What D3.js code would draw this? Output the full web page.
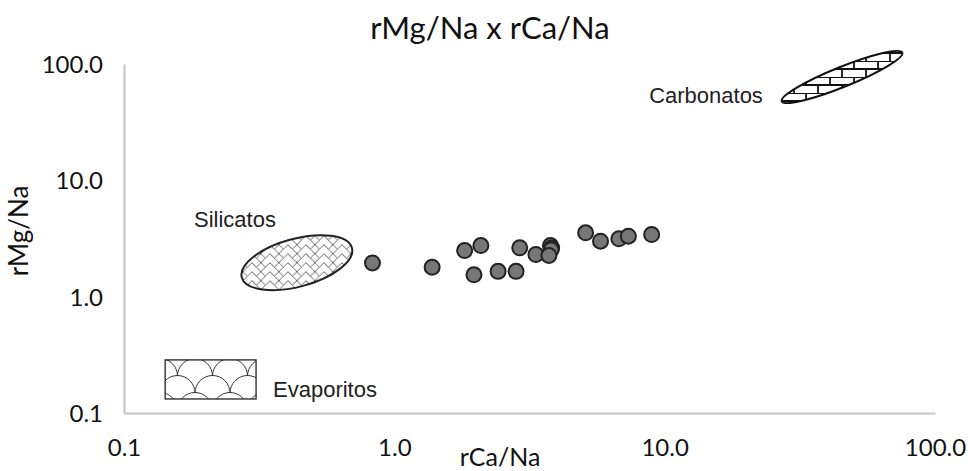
<!DOCTYPE html>
<html>
<head>
<meta charset="utf-8">
<script src="https://cdn.jsdelivr.net/npm/d3@7"></script>
<style>
  body { margin: 0; background: #fff; }
  .axis text { font-family: Lato, sans-serif; font-size: 24px; fill: #111; }
  .axis path { stroke: #c4c4c4; stroke-width: 2; }
  .region-label { font-family: "Liberation Sans", Arial, sans-serif; font-size: 22px; fill: #222; }
</style>
</head>
<body>
<div id="chart"></div>
<script>
// Samples
const rCaNa = [0.83, 1.38, 1.82, 2.09, 1.97, 2.42, 2.82, 2.91, 3.34, 3.78, 3.82, 3.80, 3.73, 5.10, 5.79, 6.77, 7.34, 8.95];
const rMgNa = [1.95, 1.79, 2.49, 2.75, 1.54, 1.65, 1.65, 2.63, 2.30, 2.75, 2.62, 2.53, 2.26, 3.54, 3.00, 3.14, 3.31, 3.42];

const tick_values = [0.1, 1, 10, 100];

// Hydrochemical fields
const region_names = ['Silicatos', 'Carbonatos', 'Evaporitos'];
const region_ca = [0.436, 45.3, [0.142, 0.308]];
const region_mg = [1.96, 77.3, [0.286, 0.132]];

const chart_width = 968;
const chart_height = 471;

const svg = d3.select('#chart')
    .append('svg')
    .attr('width', chart_width)
    .attr('height', chart_height);

const x_scale = d3.scaleLog()
    .domain([0.1, 100])
    .range([124, 935]);

const y_scale = d3.scaleLog()
    .domain([0.1, 100])
    .range([413, 64]);

// Patterns
const defs = svg.append('defs');

// herringbone for silicates
const herring = defs.append('pattern')
    .attr('id', 'herring')
    .attr('patternUnits', 'userSpaceOnUse')
    .attr('width', 18)
    .attr('height', 9)
    .attr('patternTransform', 'rotate(15)');
herring.append('path')
    .attr('d', 'M0,9 L9,0 L18,9 M9,0 L13.5,4.5 M0,0 L4.5,4.5 M13.5,4.5 L18,0')
    .attr('fill', 'none')
    .attr('stroke', '#444')
    .attr('stroke-width', 0.8);

// bricks for carbonates
const brick = defs.append('pattern')
    .attr('id', 'brick')
    .attr('patternUnits', 'userSpaceOnUse')
    .attr('width', 24)
    .attr('height', 16)
    .attr('patternTransform', 'rotate(22)');
brick.append('path')
    .attr('d', 'M0,0 H24 M0,8 H24 M12,0 V8 M0,8 V16 M24,8 V16')
    .attr('fill', 'none')
    .attr('stroke', '#111')
    .attr('stroke-width', 1.8);

// fish scales for evaporites
const scales = defs.append('pattern')
    .attr('id', 'scales')
    .attr('patternUnits', 'userSpaceOnUse')
    .attr('x', 195 - 35 * 2)
    .attr('y', 359)
    .attr('width', 35)
    .attr('height', 34);
scales.append('path')
    .attr('d', 'M-17.5,17 A17.5,17.5 0 0 1 17.5,17 M17.5,17 A17.5,17.5 0 0 1 52.5,17 ' +
        'M0,34 A17.5,17.5 0 0 1 35,34 M-35,34 A17.5,17.5 0 0 1 0,34 ' +
        'M-17.5,51 A17.5,17.5 0 0 1 17.5,51 M17.5,51 A17.5,17.5 0 0 1 52.5,51')
    .attr('fill', 'none')
    .attr('stroke', '#333')
    .attr('stroke-width', 1);

// Axes
const x_axis = d3.axisBottom(x_scale)
    .tickValues(tick_values)
    .tickFormat(d3.format('.1f'))
    .tickSize(0)
    .tickPadding(26);

svg.append('g')
    .attr('class', 'axis x-axis')
    .attr('transform', `translate(0, ${y_scale(0.1)})`)
    .call(x_axis);

const y_axis = d3.axisLeft(y_scale)
    .tickValues(tick_values)
    .tickFormat(d3.format('.1f'))
    .tickSize(0)
    .tickPadding(21);

svg.append('g')
    .attr('class', 'axis y-axis')
    .attr('transform', `translate(${x_scale(0.1)}, 0)`)
    .call(y_axis);

svg.selectAll('.y-axis text').attr('dy', '0.36em');

// Title + axis titles
svg.append('text')
    .attr('x', 490)
    .attr('y', 39)
    .attr('text-anchor', 'middle')
    .style('font-family', 'Lato, sans-serif')
    .style('font-size', '31px')
    .style('fill', '#111')
    .text('rMg/Na x rCa/Na');

svg.append('text')
    .attr('x', 500)
    .attr('y', 466)
    .attr('text-anchor', 'middle')
    .style('font-family', 'Lato, sans-serif')
    .style('font-size', '25px')
    .style('fill', '#111')
    .text('rCa/Na');

svg.append('text')
    .attr('transform', 'translate(28, 231) rotate(-90)')
    .attr('text-anchor', 'middle')
    .style('font-family', 'Lato, sans-serif')
    .style('font-size', '26px')
    .style('fill', '#111')
    .text('rMg/Na');

// Fields
const fields = svg.append('g').attr('id', 'fields');

fields.append('g')
    .attr('transform', `translate(${x_scale(region_ca[0])}, ${y_scale(region_mg[0])}) rotate(-15)`)
    .append('ellipse')
    .attr('rx', 57)
    .attr('ry', 24)
    .attr('fill', 'url(#herring)')
    .attr('stroke', '#222')
    .attr('stroke-width', 2);

fields.append('g')
    .attr('transform', `translate(${x_scale(region_ca[1])}, ${y_scale(region_mg[1])}) rotate(-22)`)
    .append('ellipse')
    .attr('rx', 65)
    .attr('ry', 10)
    .attr('fill', 'url(#brick)')
    .attr('stroke', '#111')
    .attr('stroke-width', 2);

fields.append('rect')
    .attr('x', x_scale(region_ca[2][0]))
    .attr('y', y_scale(region_mg[2][0]))
    .attr('width', x_scale(region_ca[2][1]) - x_scale(region_ca[2][0]))
    .attr('height', y_scale(region_mg[2][1]) - y_scale(region_mg[2][0]))
    .attr('fill', 'url(#scales)')
    .attr('stroke', '#222')
    .attr('stroke-width', 1.3);

fields.append('text')
    .attr('class', 'region-label')
    .attr('x', 235)
    .attr('y', 227)
    .attr('text-anchor', 'middle')
    .text(region_names[0]);

fields.append('text')
    .attr('class', 'region-label')
    .attr('x', 706)
    .attr('y', 103)
    .attr('text-anchor', 'middle')
    .text(region_names[1]);

fields.append('text')
    .attr('class', 'region-label')
    .attr('x', 273)
    .attr('y', 397)
    .text(region_names[2]);

// Points
svg.append('g')
    .attr('id', 'plot-area')
    .selectAll('circle')
    .data(rCaNa.map((d, i) => [d, rMgNa[i]]))
    .enter()
    .append('circle')
    .attr('cx', d => x_scale(d[0]))
    .attr('cy', d => y_scale(d[1]))
    .attr('r', 7.5)
    .attr('fill', '#777')
    .attr('stroke', '#222')
    .attr('stroke-width', 2);
</script>
</body>
</html>
